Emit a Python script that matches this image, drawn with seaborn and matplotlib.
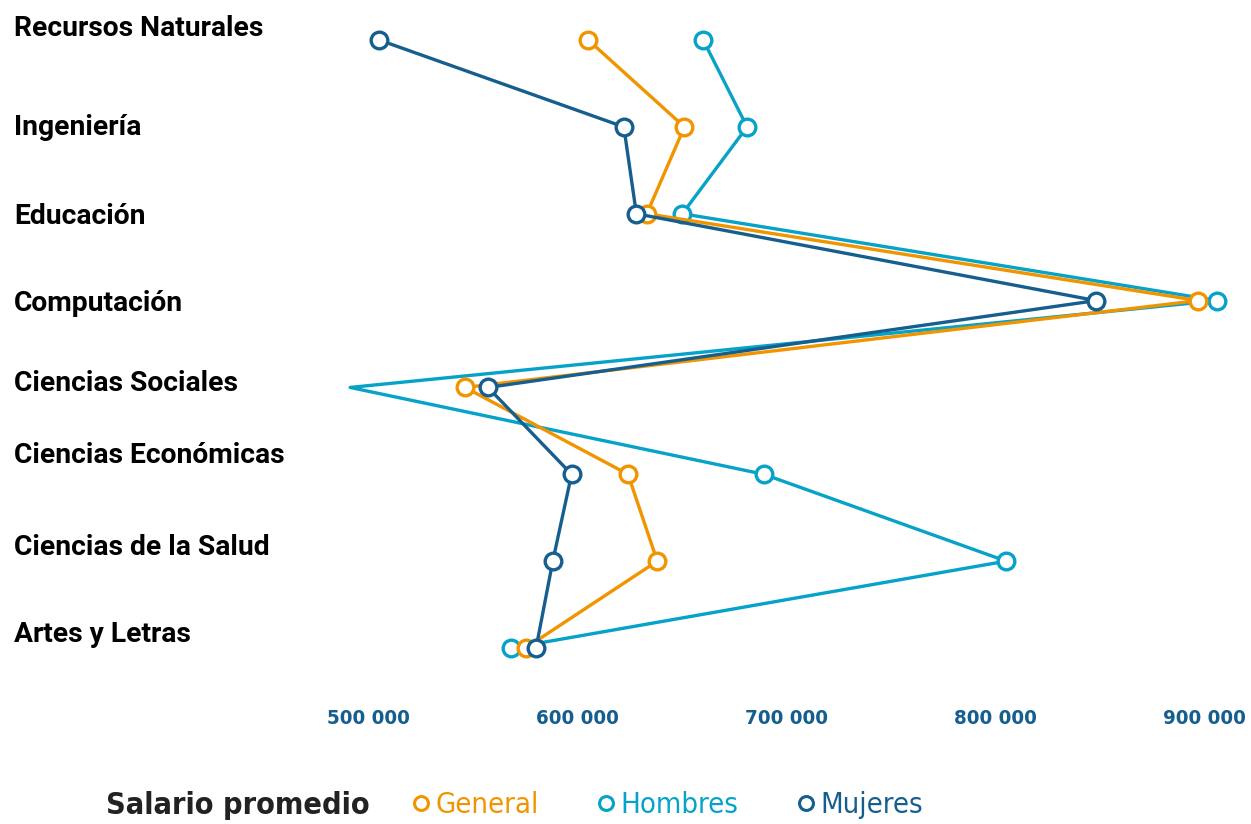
import numpy as np
import pandas as pd
import matplotlib
matplotlib.use("Agg")
import matplotlib.pyplot as plt
import matplotlib.transforms as mtransforms
from matplotlib.lines import Line2D
import seaborn as sns

# Datos
categorias = ["Recursos Naturales", "Ingeniería", "Educación", "Computación",
              "Ciencias Sociales", "Ciencias Económicas", "Ciencias de la Salud",
              "Artes y Letras"]
general = [605000, 651000, 633000, 897000, 546000, 624000, 638000, 575000]
hombres = [660000, 681000, 650000, 906000, 491000, 689000, 805000, 568000]
mujeres = [505000, 622000, 628000, 848000, 557000, 597000, 588000, 580000]
# el punto de Hombres en Ciencias Sociales no lleva marcador en el original
hombres_marcas = [0, 1, 2, 3, 5, 6, 7]
xticks = [500000, 600000, 700000, 800000, 900000]
xticklabels = ["500 000", "600 000", "700 000", "800 000", "900 000"]

c_general = "#f09400"
c_hombres = "#06a2c8"
c_mujeres = "#155e8e"

sns.set_theme(style="white")
plt.rcParams["font.family"] = ["Roboto", "DejaVu Sans"]
narrow = dict(family="DejaVu Sans", stretch="condensed")

fig = plt.figure(figsize=(12.51, 8.24), dpi=100)
ax = fig.add_axes([0.2615, 0.182, 0.7215, 0.801])

pos = np.arange(len(categorias))
df = pd.DataFrame({"pos": pos, "General": general, "Hombres": hombres, "Mujeres": mujeres})

estilo = dict(marker="o", markersize=12, markerfacecolor="white", markeredgewidth=2.4,
              linewidth=2.4, sort=False, estimator=None, orient="y")
sns.lineplot(data=df, x="Hombres", y="pos", color=c_hombres, markeredgecolor=c_hombres,
             markevery=hombres_marcas, ax=ax, **estilo)
sns.lineplot(data=df, x="General", y="pos", color=c_general, markeredgecolor=c_general,
             ax=ax, **estilo)
sns.lineplot(data=df, x="Mujeres", y="pos", color=c_mujeres, markeredgecolor=c_mujeres,
             ax=ax, **estilo)

ax.set_xlim(480000, 912000)
ax.set_ylim(len(categorias) - 1 + 0.3, -0.3)
for s in ax.spines.values():
    s.set_visible(False)
ax.set_xlabel("")
ax.set_ylabel("")
ax.set_xticks(xticks)
ax.set_xticklabels(xticklabels, fontsize=14.7, fontweight="bold", color=c_mujeres, **narrow)
ax.tick_params(axis="x", length=0, pad=25)
ax.set_yticks([])

# etiquetas de categorias alineadas a la izquierda
desfase = [12, -1, -3, -3, 4, 19, 14, 13]
for i, (cat, d) in enumerate(zip(categorias, desfase)):
    tr = mtransforms.blended_transform_factory(fig.transFigure, ax.transData)
    tr = tr + mtransforms.ScaledTranslation(0, d / 100, fig.dpi_scale_trans)
    ax.text(14 / 1251, i, cat, transform=tr, ha="left", va="center",
            fontsize=20.3, fontweight="bold", color="black")

# leyenda
fig.text(106 / 1251, 1 - 805 / 824, "Salario promedio", fontsize=22, fontweight="bold",
         color="#222222", va="center", ha="left", **narrow)
handles = [Line2D([], [], linestyle="none", marker="o", markersize=10,
                  markerfacecolor="white", markeredgewidth=2.2, markeredgecolor=c)
           for c in (c_general, c_hombres, c_mujeres)]
leg = fig.legend(handles, ["General", "Hombres", "Mujeres"], ncol=3, frameon=False,
                 loc="center left", bbox_to_anchor=(386 / 1251, 1 - 805 / 824),
                 handlelength=0.6, handletextpad=0.2, columnspacing=2.0,
                 prop={"family": "DejaVu Sans", "stretch": "condensed", "size": 21})
for t, c in zip(leg.get_texts(), (c_general, c_hombres, c_mujeres)):
    t.set_color(c)

fig.savefig("out.png", dpi=100)
